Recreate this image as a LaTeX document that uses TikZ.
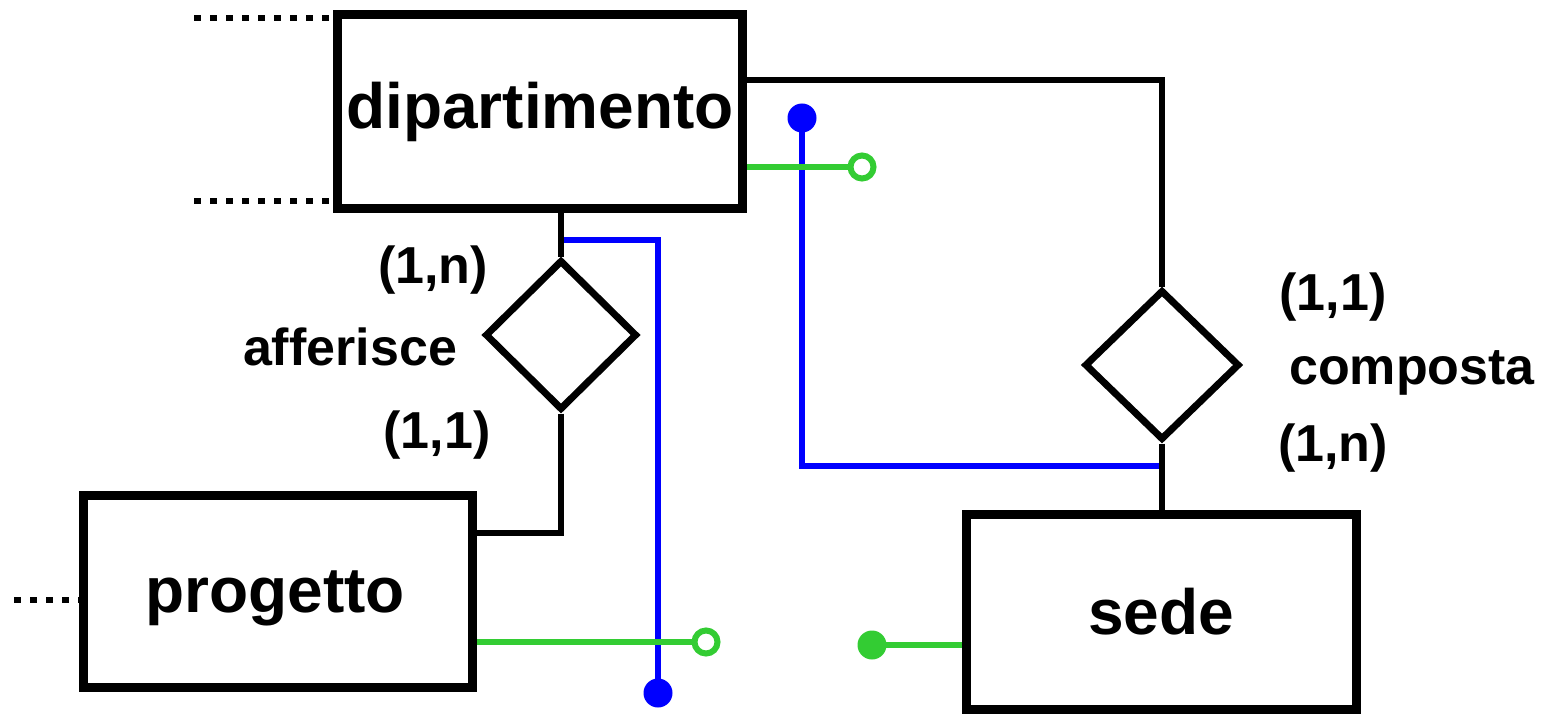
\documentclass[tikz,border=0pt]{standalone}
\usepackage{fontspec}
\setmainfont{Liberation Sans}
\usetikzlibrary{shapes.geometric,calc}
\definecolor{ergreen}{HTML}{33CC33}
\definecolor{erblue}{HTML}{0000FF}
\tikzset{
  entity/.style={draw=black,line width=9pt,rectangle,inner sep=0pt,fill=white,
     font=\fontsize{64}{70}\selectfont\bfseries},
  etext/.style={inner sep=0pt,font=\fontsize{64}{70}\selectfont\bfseries},
  relship/.style={draw=black,line width=7pt,diamond,aspect=1,inner sep=0pt,
     minimum width=152pt,minimum height=150pt},
  link/.style={draw=black,line width=6.5pt},
  lbl/.style={font=\fontsize{52}{58}\selectfont\bfseries,inner sep=0pt},
  dots/.style={draw=black,line width=6.5pt,dash pattern=on 7pt off 9pt},
  bluel/.style={draw=erblue,line width=6pt},
  greenl/.style={draw=ergreen,line width=6pt},
}
\begin{document}
\begin{tikzpicture}[x=1pt,y=-1pt]
\useasboundingbox (0,0) rectangle (1542,714);
% entities
\node[entity,minimum width=405pt,minimum height=194pt] (dip) at (540,112) {dipartimento};
\node[entity,minimum width=389pt,minimum height=192pt] (prog) at (278,591) {};
\node[etext] (progt) at (275,598) {progetto};
\node[entity,minimum width=390pt,minimum height=195pt] (sede) at (1161,612) {sede};
% relationships
\node[relship] (aff) at (561,335) {};
\node[relship,minimum width=155pt] (comp) at (1162,365) {};
% labels
\node[lbl] (l1) at (433,270) {(1,n)};
\node[lbl] (l2) at (350,347) {afferisce};
\node[lbl] (l3) at (437,435) {(1,1)};
\node[lbl] (l4) at (1333,297) {(1,1)};
\node[lbl] (l5) at (1412,373) {composta};
\node[lbl] (l6) at (1333,448) {(1,n)};
% coordinates for free ends
\coordinate (dt1) at (194,18);
\coordinate (dt2) at (194,201);
\coordinate (dt3) at (14,600);
\coordinate (ab) at (658,693);
\coordinate (cb) at (802,118);
\coordinate (dg) at (862,167);
\coordinate (pg) at (706,642);
\coordinate (sg) at (872,645);
% blue
\draw[bluel] (561,240) coordinate (ba) -- (ab |- ba) -- (ab);
\fill[erblue] (ab) circle (14.5);
\draw[bluel] (comp.south |- 0,466) coordinate (bc) -| (cb);
\fill[erblue] (cb) circle (14.5);
% black connectors
\draw[link] (aff.north |- dip.south) -- (aff.north);
\draw[link] (aff.south) -- (561,533) coordinate (ak) -- (prog.east |- ak);
\draw[link] (dip.east |- 0,80) -| (comp.north);
\draw[link] (comp.south) -- (comp.south |- sede.north);
% dotted
\draw[dots] (dt1) -- (dip.west |- dt1);
\draw[dots] (dt2) -- (dip.west |- dt2);
\draw[dots] (dt3) -- (prog.west |- dt3);
% green
\draw[greenl] (dip.east |- dg) -- ([xshift=-12pt]dg);
\draw[ergreen,line width=6pt,fill=white] (dg) circle (11.5);
\draw[greenl] (prog.east |- pg) -- ([xshift=-12pt]pg);
\draw[ergreen,line width=6pt,fill=white] (pg) circle (11.5);
\draw[greenl] (sede.west |- sg) -- (sg);
\fill[ergreen] (sg) circle (14.5);
\end{tikzpicture}
\end{document}
